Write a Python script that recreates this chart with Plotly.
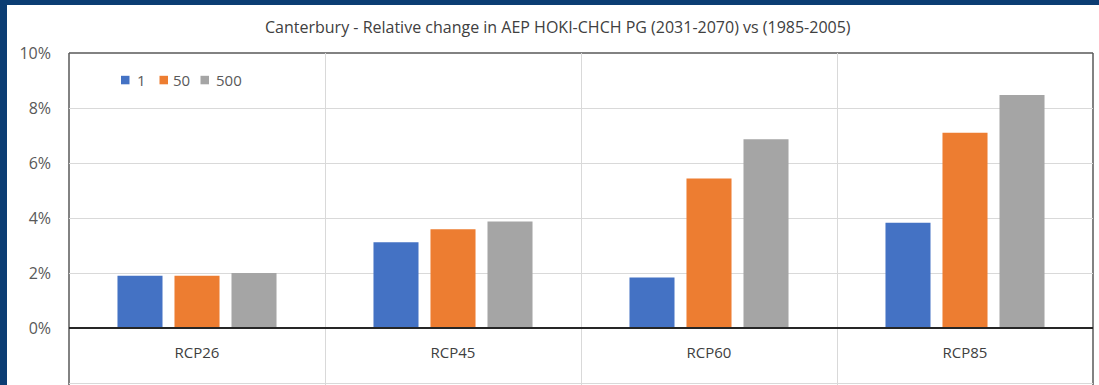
import plotly.graph_objects as go

# Scenario groups and return-period series (relative change in AEP)
scenarios = ["RCP26", "RCP45", "RCP60", "RCP85"]
series_names = ["1", "50", "500"]
aep_1 = [0.019, 0.0312, 0.0184, 0.0383]
aep_50 = [0.019, 0.0359, 0.0544, 0.0710]
aep_500 = [0.020, 0.0387, 0.0686, 0.0847]
y_ticks = [-0.02, 0.0, 0.02, 0.04, 0.06, 0.08, 0.10]

colors = ["#4472C4", "#ED7D31", "#A5A5A5"]
navy = "#0B3D73"
W, H = 1099, 385
L, R, T, B = 69, 1093, 53, 385          # plot area in pixels
pw, ph = R - L, B - T
y_min, y_max = -0.0207, 0.10


def px_x(x):
    return (x - L) / pw


def px_y(y):
    return (B - y) / ph


fig = go.Figure()
for name, vals, col in zip(series_names, [aep_1, aep_50, aep_500], colors):
    fig.add_trace(go.Bar(x=scenarios, y=vals, name=name, showlegend=False,
                         marker=dict(color=col, line=dict(width=0))))

# fraction of the plot height where the 0% line sits
zero_pos = (0 - y_min) / (y_max - y_min)

font_family = "Open Sans, Noto Sans, sans-serif"
border = dict(color="#595959", width=1.5)

shapes = [
    # navy frame strips (left and top)
    dict(type="rect", xref="paper", yref="paper",
         x0=px_x(0), x1=px_x(7), y0=0, y1=px_y(0),
         fillcolor=navy, line=dict(width=0), layer="below"),
    dict(type="rect", xref="paper", yref="paper",
         x0=px_x(0), x1=px_x(W), y0=px_y(5), y1=px_y(0),
         fillcolor=navy, line=dict(width=0), layer="below"),
    # plot-area border: top, left and right edges
    dict(type="line", xref="paper", yref="paper", x0=0, x1=1, y0=1, y1=1,
         line=border, layer="between"),
    dict(type="line", xref="paper", yref="paper", x0=0, x1=0, y0=0, y1=1,
         line=border, layer="between"),
    dict(type="line", xref="paper", yref="paper", x0=1, x1=1, y0=0, y1=1,
         line=border, layer="between"),
]

# compact legend in the upper-left of the plot: swatch + label per series
legend_swatch_x = [121, 159.5, 200.5]
legend_text_x = [135, 171, 214]
annotations = []
for name, col, sx, tx in zip(series_names, colors, legend_swatch_x, legend_text_x):
    shapes.append(dict(type="rect", xref="paper", yref="paper",
                       x0=px_x(sx), x1=px_x(sx + 8.5), y0=px_y(84.3), y1=px_y(75.8),
                       fillcolor=col, line=dict(width=0), layer="above"))
    annotations.append(dict(text=name, xref="paper", yref="paper",
                            x=px_x(tx), y=px_y(80), xanchor="left", yanchor="middle",
                            showarrow=False,
                            font=dict(family=font_family, size=15, color="#595959")))

# chart title as a page-level annotation
annotations.append(dict(
    text="Canterbury - Relative change in AEP HOKI-CHCH PG (2031-2070) vs (1985-2005)",
    xref="paper", yref="paper", x=px_x(558), y=px_y(27),
    xanchor="center", yanchor="middle", showarrow=False,
    font=dict(family=font_family, size=16, color="#404040"),
))

fig.update_layout(
    width=W, height=H,
    margin=dict(l=L, r=W - R, t=T, b=0, autoexpand=False),
    paper_bgcolor="white",
    plot_bgcolor="white",
    barmode="group",
    bargap=0.332,
    bargroupgap=0.21,
    font=dict(family=font_family, color="#595959", size=13),
    showlegend=False,
    xaxis=dict(
        type="category", anchor="free", position=zero_pos,
        showline=True, linecolor="#262626", linewidth=1.5,
        showgrid=True, gridcolor="#D9D9D9", gridwidth=1,
        tickson="boundaries", ticks="", ticklabelstandoff=11,
        tickfont=dict(size=15, color="#404040"),
        range=[-0.5, 3.5], automargin=False,
    ),
    yaxis=dict(
        range=[y_min, y_max], tickvals=y_ticks, tickformat=".0%",
        showgrid=True, gridcolor="#D9D9D9", gridwidth=1,
        zeroline=False, ticks="", ticklabelstandoff=17,
        tickfont=dict(size=16, color="#595959"), automargin=False,
    ),
    shapes=shapes,
    annotations=annotations,
)

fig.write_html("out.html")
